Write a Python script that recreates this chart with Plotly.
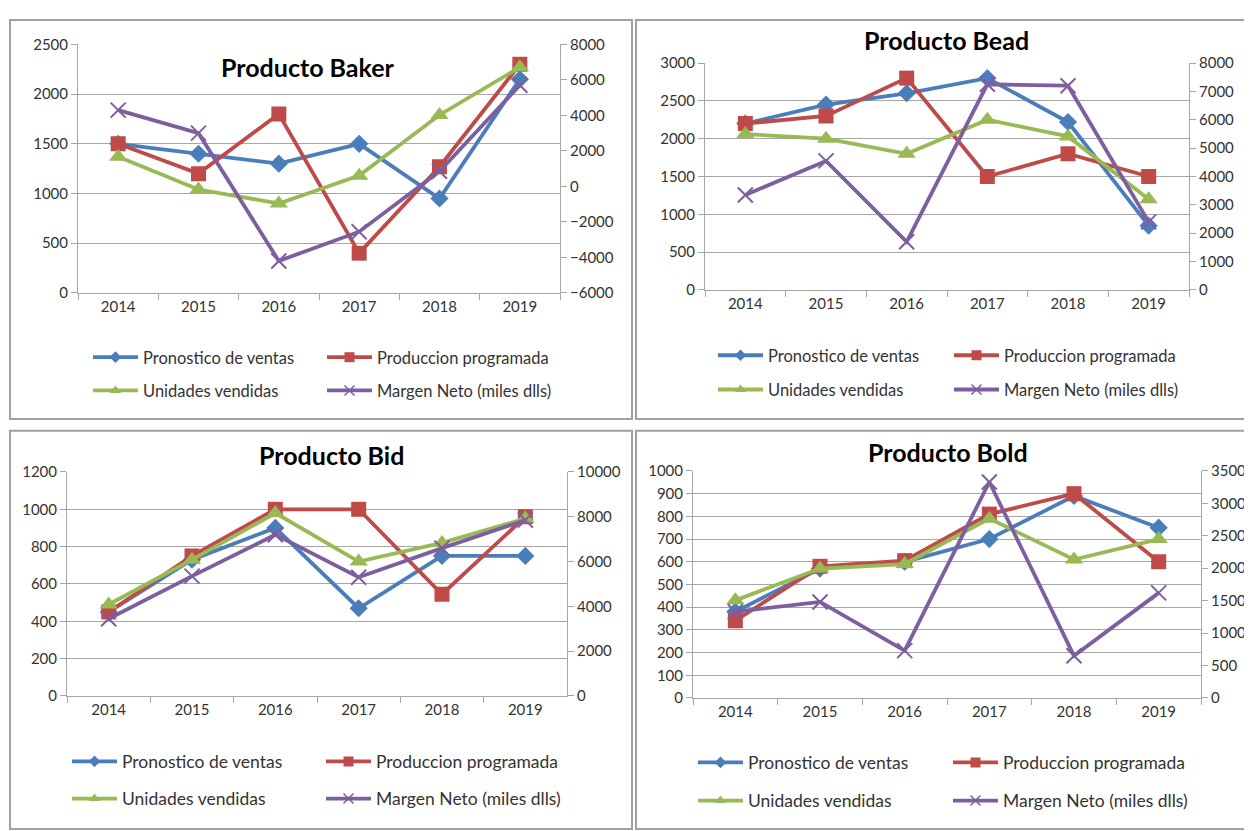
import plotly.graph_objects as go

years = ["2014", "2015", "2016", "2017", "2018", "2019"]
series_names = ["Pronostico de ventas", "Produccion programada", "Unidades vendidas", "Margen Neto (miles dlls)"]

# Producto Baker
baker_pronostico = [1500, 1400, 1300, 1500, 950, 2150]
baker_produccion = [1500, 1200, 1800, 400, 1270, 2300]
baker_unidades = [1370, 1040, 900, 1180, 1790, 2270]
baker_margen = [4300, 3000, -4200, -2550, 850, 5700]

# Producto Bead
bead_pronostico = [2200, 2450, 2600, 2800, 2220, 850]
bead_produccion = [2200, 2300, 2800, 1500, 1800, 1500]
bead_unidades = [2060, 2000, 1800, 2250, 2030, 1200]
bead_margen = [3350, 4550, 1700, 7250, 7200, 2400]

# Producto Bid
bid_pronostico = [450, 730, 900, 470, 750, 750]
bid_produccion = [450, 750, 1000, 1000, 545, 960]
bid_unidades = [490, 730, 980, 720, 820, 950]
bid_margen = [3450, 5350, 7200, 5300, 6600, 7850]

# Producto Bold
bold_pronostico = [380, 570, 600, 700, 890, 750]
bold_produccion = [340, 580, 605, 810, 900, 600]
bold_unidades = [430, 570, 590, 790, 610, 700]
bold_margen = [1330, 1480, 730, 3330, 650, 1620]

W, H = 1252, 831
FONT = "Lato"
COLORS = ["#4A7EBB", "#BE4B48", "#98B954", "#7D5FA0"]
SYMBOLS = ["diamond", "square", "triangle-up", "x-thin"]
MSIZE = [14, 15, 16, 15]
LEG_MSIZE = [9, 10, 10, 10]

panels = [
    dict(title="Producto Baker", data=[baker_pronostico, baker_produccion, baker_unidades, baker_margen],
         box=(70, 552, 27, 281), left=(0, 2500, 500), right=(-6000, 8000, 2000),
         tpos=(300, 50), border=(2, 624, 2, 410), leg=(80, 347, 381, 229), lfont=16.5),
    dict(title="Producto Bead", data=[bead_pronostico, bead_produccion, bead_unidades, bead_margen],
         box=(697, 1181, 46, 278), left=(0, 3000, 500), right=(0, 8000, 1000),
         tpos=(938, 22), border=(628, 1250, 2, 410), leg=(705, 345, 380, 231), lfont=16.5),
    dict(title="Producto Bid", data=[bid_pronostico, bid_produccion, bid_unidades, bid_margen],
         box=(59, 559, 464, 693), left=(0, 1200, 200), right=(0, 10000, 2000),
         tpos=(323, 447), border=(2, 624, 422, 829), leg=(59, 760, 798, 249), lfont=17.5),
    dict(title="Producto Bold", data=[bold_pronostico, bold_produccion, bold_unidades, bold_margen],
         box=(685, 1193, 463, 695), left=(0, 1000, 100), right=(0, 3500, 500),
         tpos=(940, 444), border=(628, 1250, 422, 829), leg=(685, 761, 800, 250), lfont=17.5),
]

def px_x(v):
    return v / W

def px_y(v):
    return 1 - v / H

fig = go.Figure()
layout = dict(width=W, height=H, margin=dict(l=0, r=0, t=0, b=0),
              paper_bgcolor="white", plot_bgcolor="white",
              font=dict(family=FONT, size=15, color="#404040"),
              annotations=[], shapes=[])

GRID = "#A6A6A6"
TICKFONT = dict(family=FONT, size=15, color="#333333")
for k, p in enumerate(panels, start=1):
    xl, xr, yt, yb = p["box"]
    ly = 2 * k - 1
    ry = 2 * k
    xa = "x" if k == 1 else f"x{k}"
    yl = "y" if ly == 1 else f"y{ly}"
    yr = f"y{ry}"
    layout["xaxis" if k == 1 else f"xaxis{k}"] = dict(
        domain=[px_x(xl), px_x(xr)], anchor=yl, type="category",
        range=[-0.5, 5.5], tickson="boundaries", ticks="outside", ticklen=6,
        tickcolor=GRID, showline=True, linecolor=GRID, linewidth=1,
        showgrid=False, tickfont=TICKFONT, fixedrange=True)
    lo, hi, dt = p["left"]
    layout["yaxis" if ly == 1 else f"yaxis{ly}"] = dict(
        domain=[px_y(yb), px_y(yt)], anchor=xa, range=[lo, hi], dtick=dt, tick0=lo,
        showline=True, linecolor=GRID, ticks="outside", ticklen=6, tickcolor=GRID,
        showgrid=True, gridcolor=GRID, gridwidth=1, zeroline=False,
        tickformat="d", tickfont=TICKFONT, fixedrange=True)
    lo2, hi2, dt2 = p["right"]
    layout[f"yaxis{ry}"] = dict(
        overlaying=yl, side="right", anchor=xa, range=[lo2, hi2], dtick=dt2, tick0=lo2,
        showline=True, linecolor=GRID, ticks="outside", ticklen=6, tickcolor=GRID,
        showgrid=False, zeroline=False, tickformat="d", tickfont=TICKFONT,
        fixedrange=True)

    lx, r1, r2, spacing = p["leg"]
    for j, (name, vals) in enumerate(zip(series_names, p["data"])):
        legname = f"legend{ly}" if ly > 1 else "legend"
        if j >= 2:
            legname = f"legend{ry}"
        marker = dict(symbol=SYMBOLS[j], size=MSIZE[j], color=COLORS[j])
        if SYMBOLS[j] == "x-thin":
            marker["line"] = dict(color=COLORS[j], width=2)
        fig.add_trace(go.Scatter(
            x=years, y=vals, name=name, mode="lines+markers",
            line=dict(color=COLORS[j], width=3.8), marker=marker,
            xaxis=xa, yaxis=yr if j == 3 else yl, showlegend=False,
            hoverinfo="x+y+name"))
        # legend entry with the small Excel-style key marker
        lmarker = dict(symbol=SYMBOLS[j], size=LEG_MSIZE[j], color=COLORS[j])
        if SYMBOLS[j] == "x-thin":
            lmarker["line"] = dict(color=COLORS[j], width=1.5)
        fig.add_trace(go.Scatter(
            x=[None], y=[None], name=name, mode="lines+markers",
            line=dict(color=COLORS[j], width=3.8), marker=lmarker,
            xaxis=xa, yaxis=yr if j == 3 else yl, legend=legname,
            showlegend=True, hoverinfo="skip"))

    for li, ry_px in ((ly, r1), (ry, r2)):
        key = "legend" if li == 1 else f"legend{li}"
        layout[key] = dict(
            x=px_x(lx), y=px_y(ry_px), xanchor="left", yanchor="middle",
            orientation="h", bgcolor="rgba(0,0,0,0)", borderwidth=0,
            itemwidth=45, entrywidth=spacing - 55, entrywidthmode="pixels",
            font=dict(family=FONT, size=p["lfont"], color="#333333"),
            tracegroupgap=0, itemclick=False, itemdoubleclick=False)

    tx, ty = p["tpos"]
    layout["annotations"].append(dict(
        text=f"<b>{p['title']}</b>", x=px_x(tx), y=px_y(ty), xref="paper", yref="paper",
        xanchor="center", yanchor="middle", showarrow=False,
        font=dict(family=FONT, size=25, color="#000000")))

    bx0, bx1, by0, by1 = p["border"]
    layout["shapes"].append(dict(
        type="rect", xref="paper", yref="paper",
        x0=px_x(bx0), x1=px_x(bx1), y0=px_y(by1), y1=px_y(by0),
        line=dict(color="#A0A0A0", width=2), fillcolor="rgba(0,0,0,0)", layer="below"))

fig.update_layout(**layout)
fig.write_html("out.html")
